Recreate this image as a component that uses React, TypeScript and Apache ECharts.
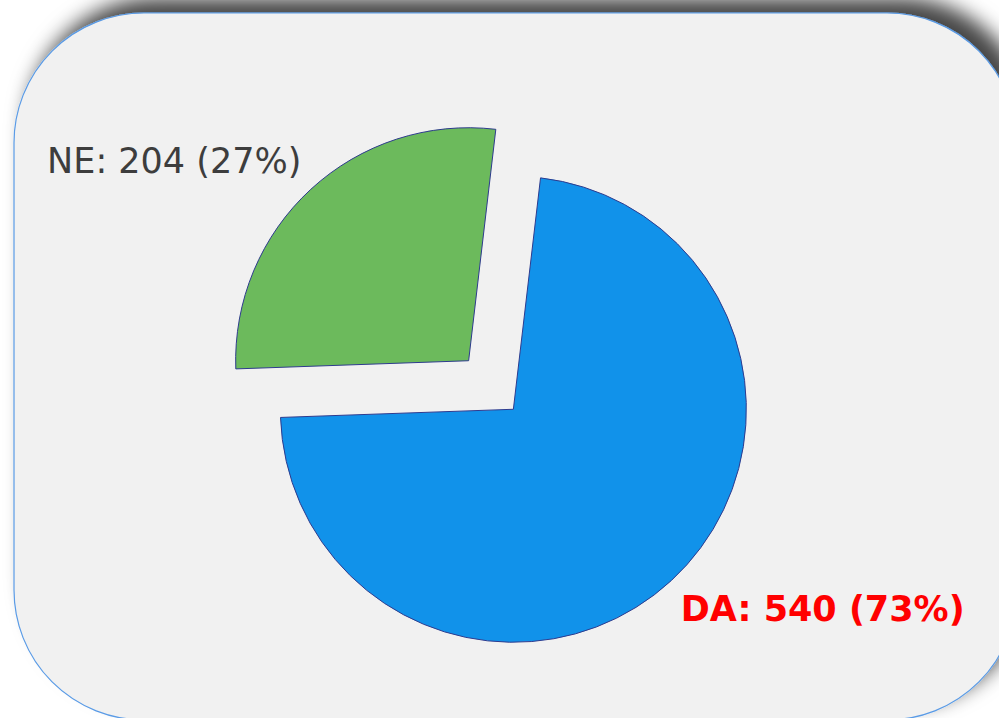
import React, { useEffect, useRef } from "react";
import * as echarts from "echarts";

const categories = ["DA", "NE"];
const values = [540, 204];
const sliceColors = ["#1192ea", "#6cba5c"];
const labelColors = ["#ff0000", "#3d3d3d"];
const labelWeights = ["bold", "normal"];

export default function App() {
  const ref = useRef<HTMLDivElement>(null);
  useEffect(() => {
    if (!ref.current) return;
    const chart = echarts.init(ref.current, null, { renderer: "svg" });
    const data = categories.map((name, i) => ({
      name,
      value: values[i],
      selected: true,
      itemStyle: { color: sliceColors[i] },
      label: { color: labelColors[i], fontWeight: labelWeights[i] },
      select: {
        itemStyle: { color: sliceColors[i], borderColor: "#2e3b8e", borderWidth: 1 },
        label: { color: labelColors[i], fontWeight: labelWeights[i] },
      },
    }));
    chart.setOption({
      animation: false,
      graphic: [
        {
          type: "rect",
          z: -10,
          shape: { x: 14, y: 13, width: 1003, height: 707, r: 130 },
          style: {
            fill: "#f1f1f1",
            stroke: "#5a9be6",
            lineWidth: 1.2,
            shadowBlur: 20,
            shadowOffsetX: 13,
            shadowOffsetY: -15,
            shadowColor: "rgba(0,0,0,0.72)",
          },
          silent: true,
        },
      ],
      series: [
        {
          type: "pie",
          center: [491, 385],
          radius: 233,
          startAngle: 83.3,
          clockwise: true,
          selectedMode: "multiple",
          selectedOffset: 33,
          percentPrecision: 0,
          avoidLabelOverlap: false,
          itemStyle: { borderColor: "#2e3b8e", borderWidth: 1 },
          emphasis: { disabled: true },
          label: {
            show: true,
            position: "outside",
            formatter: "{b}: {c} ({d}%)",
            fontFamily: "DejaVu Sans",
            fontSize: 35,
            distanceToLabelLine: 5,
          },
          labelLine: { show: false, length: 39, length2: -22 },
          data,
        },
      ],
    });
    return () => chart.dispose();
  }, []);
  return (
    <div
      ref={ref}
      style={{ position: "absolute", left: 0, top: 0, width: 999, height: 718 }}
    />
  );
}
